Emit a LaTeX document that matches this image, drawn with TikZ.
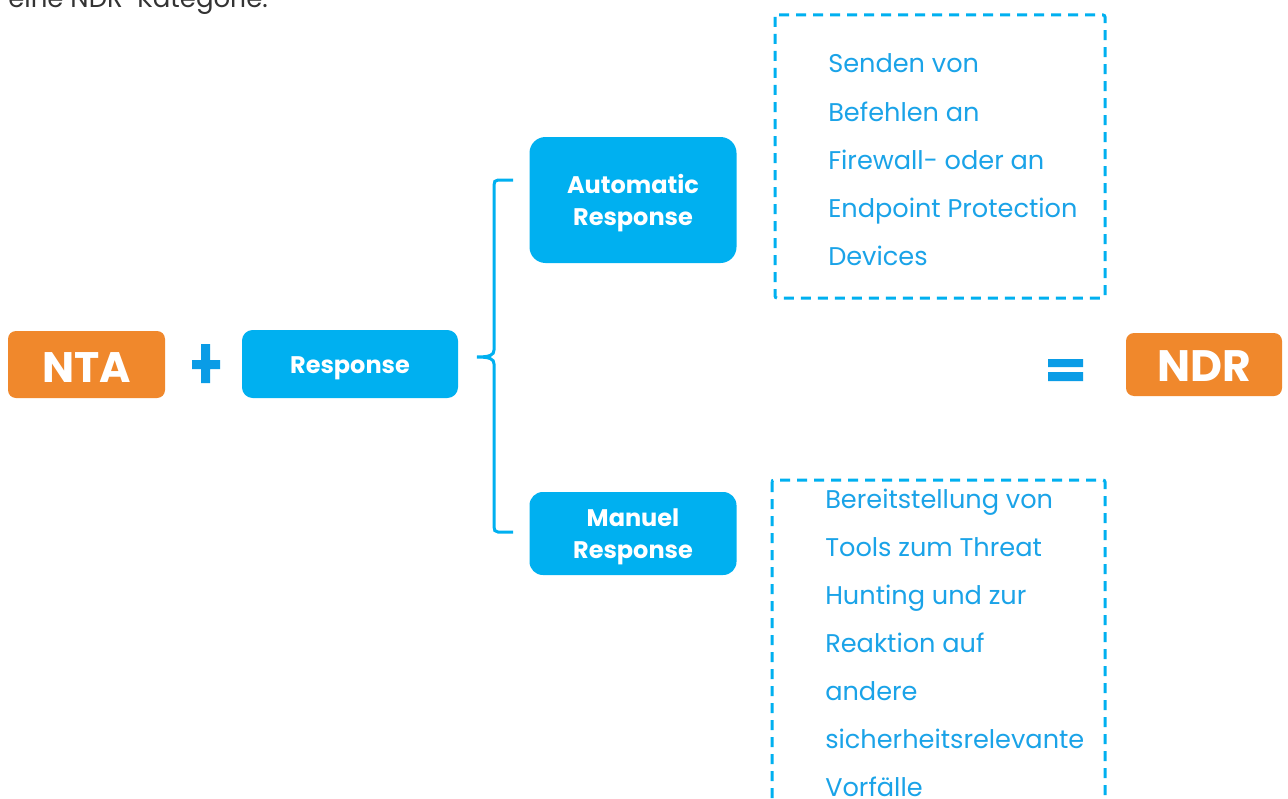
\documentclass[tikz,border=0pt]{standalone}
\usepackage{fontspec}
\setmainfont{Poppins}
\definecolor{orng}{HTML}{F0882C}
\definecolor{boxblue}{HTML}{00B0F0}
\definecolor{symblue}{HTML}{0A9CE6}
\definecolor{txtblue}{HTML}{1AA3E8}
\definecolor{introgray}{HTML}{333333}
\tikzset{
  orangebox/.style={fill=orng, rounded corners=6pt, inner sep=0pt},
  orangetext/.style={text=white, font=\bfseries\fontsize{32}{36}\selectfont, inner sep=0pt},
  bluebox/.style={fill=boxblue, rounded corners=8pt, inner sep=0pt},
  bluetext/.style={text=white, font=\bfseries\fontsize{18}{24}\selectfont, inner sep=0pt, align=center},
  dashbox/.style={draw=boxblue, line width=2.25pt, dash pattern=on 7.5pt off 5.25pt, rounded corners=1.5pt},
  bracestyle/.style={draw=boxblue, line width=2.25pt},
  linetext/.style={anchor=base west, text=txtblue, inner sep=0pt, font=\fontsize{19.2}{22}\selectfont},
}
\begin{document}
\begin{tikzpicture}[x=0.75pt,y=-0.75pt]
\clip (0,0) rectangle (1288,799);
\fill[white] (0,0) rectangle (1288,799);

\node[anchor=base west, inner sep=0pt, text=introgray, font=\fontsize{19.5}{22}\selectfont] (intro) at (8,8) {eine NDR-Kategorie.};

\node[orangebox, minimum width={157*0.75pt}, minimum height={67*0.75pt}] (nta) at (86.5,364.5) {};
\node[orangetext] (ntatxt) at ([yshift=-2.25pt]nta.center) {NTA};
\fill[symblue] (192,360) rectangle (220,369) (201,344) rectangle (210,383);
\node[bluebox, minimum width={216*0.75pt}, minimum height={68*0.75pt}] (resp) at (350,364) {};
\node[bluetext] (resptxt) at ([yshift=-3pt]resp.center) {Response};

\node[bluebox, rounded corners=12pt, minimum width={207*0.75pt}, minimum height={126*0.75pt}] (auto) at (633,200) {};
\node[bluetext] (autotxt) at ([yshift=-2.25pt]auto.center) {Automatic\\Response};
\node[bluebox, rounded corners=10pt, minimum width={207*0.75pt}, minimum height={83*0.75pt}] (man) at (633,533.5) {};
\node[bluetext] (mantxt) at ([yshift=-2.25pt]man.center) {Manuel\\Response};

\coordinate (btop) at (513,180);
\coordinate (btip) at (477,357);
\coordinate (bbot) at (513,532);
\path[bracestyle] (btop) -- (498,180) .. controls (495,180) and (494,182) .. (494,185) -- (494,350) .. controls (494,355) and (490,357) .. (btip)
  .. controls (490,357) and (494,359) .. (494,364) -- (494,527) .. controls (494,530) and (495,532) .. (498,532) -- (bbot);

\draw[dashbox] (775,15) rectangle (1105,298);
\foreach \t [count=\i] in {Senden von, Befehlen an, Firewall- oder an, Endpoint Protection, Devices}{
  \node[linetext] (a\i) at (828,{73+48*(\i-1)}) {\t};
}
\draw[dashbox] (772,480) rectangle (1105,830);
\foreach \t [count=\i] in {Bereitstellung von, Tools zum Threat, Hunting und zur, Reaktion auf, andere, sicherheitsrelevante, Vorfälle}{
  \node[linetext] (b\i) at (825,{508+48*(\i-1)}) {\t};
}

\fill[symblue] (1048,359) rectangle (1083,367) (1048,372) rectangle (1083,381);
\node[orangebox, minimum width={156*0.75pt}, minimum height={63*0.75pt}] (ndr) at (1204,364.5) {};
\node[orangetext, font=\bfseries\fontsize{33}{36}\selectfont] (ndrtxt) at ([yshift=-1.5pt]ndr.center) {NDR};
\end{tikzpicture}
\end{document}
